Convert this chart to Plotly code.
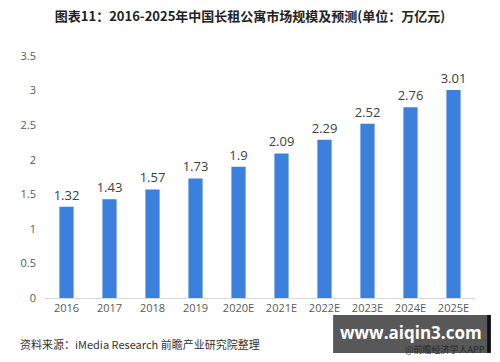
import plotly.graph_objects as go

categories = ["2016", "2017", "2018", "2019", "2020E", "2021E", "2022E", "2023E", "2024E", "2025E"]
values = [1.32, 1.43, 1.57, 1.73, 1.9, 2.09, 2.29, 2.52, 2.76, 3.01]
value_labels = ["1.32", "1.43", "1.57", "1.73", "1.9", "2.09", "2.29", "2.52", "2.76", "3.01"]
y_ticks = [0, 0.5, 1, 1.5, 2, 2.5, 3, 3.5]
y_tick_labels = ["0", "0.5", "1", "1.5", "2", "2.5", "3", "3.5"]

font_family = "Noto Sans CJK SC, Noto Sans, sans-serif"

fig = go.Figure(go.Bar(
    x=categories, y=values,
    marker=dict(color="#3b80dc", line=dict(width=0)),
    text=value_labels, textposition="outside", constraintext="none",
    textfont=dict(size=13, color="#404040", family="Open Sans, sans-serif"),
    cliponaxis=False,
))

fig.update_layout(
    width=500, height=362,
    margin=dict(l=45, r=25, t=56, b=64),
    paper_bgcolor="white", plot_bgcolor="white",
    bargap=0.67,
    showlegend=False,
    title=dict(
        text="<b>图表11：2016-2025年中国长租公寓市场规模及预测(单位：万亿元)</b>",
        x=0.5, xanchor="center", y=0.955, yanchor="middle",
        font=dict(size=13, color="#222222", family=font_family),
    ),
    xaxis=dict(
        showline=True, linecolor="#d9d9d9", linewidth=1,
        ticks="", tickfont=dict(size=11, color="#595959", family="Open Sans, sans-serif"),
        showgrid=False,
    ),
    yaxis=dict(
        range=[0, 3.5], tickvals=y_ticks, ticktext=y_tick_labels,
        showgrid=False, zeroline=False, showline=False,
        ticks="", ticklabelstandoff=8,
        tickfont=dict(size=11, color="#595959", family="Open Sans, sans-serif"),
    ),
)

fig.add_annotation(
    text="资料来源：iMedia Research 前瞻产业研究院整理",
    xref="paper", yref="paper", x=-0.063, y=-0.19, xanchor="left", yanchor="middle",
    showarrow=False,
    font=dict(size=11, color="#333333", family=font_family),
)

fig.add_shape(type="rect", xref="paper", yref="paper",
              x0=0.670, x1=1.028, y0=-0.227, y1=-0.070,
              fillcolor="#4a4a4a", opacity=0.92, line=dict(width=0), layer="above")
fig.add_shape(type="rect", xref="paper", yref="paper",
              x0=1.028, x1=1.037, y0=-0.227, y1=-0.070,
              fillcolor="#111111", line=dict(width=0), layer="above")
fig.add_annotation(
    text="<b>www.aiqin3.com</b>",
    xref="paper", yref="paper", x=0.851, y=-0.142, xanchor="center", yanchor="middle",
    showarrow=False, font=dict(size=17, color="white", family="Open Sans, sans-serif"),
)
fig.add_annotation(
    text="@前瞻经济学人APP",
    xref="paper", yref="paper", x=1.028, y=-0.212, xanchor="right", yanchor="middle",
    showarrow=False, font=dict(size=9, color="#2a2a2a", family=font_family),
)

fig.write_html("out.html", config={"displayModeBar": False},
               post_script="document.body.style.margin='0';")
